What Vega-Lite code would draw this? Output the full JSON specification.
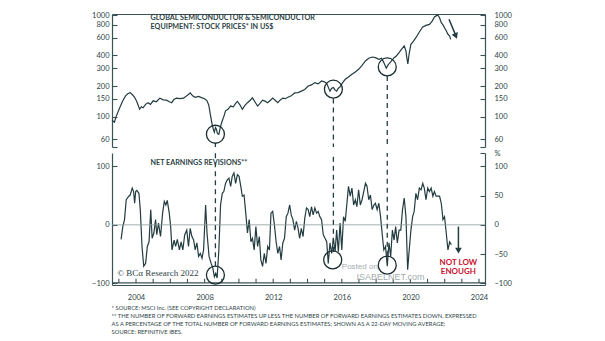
{
  "$schema": "https://vega.github.io/schema/vega-lite/v6.json",
  "background": "white",
  "padding": {"left": 91, "top": 11, "right": 5, "bottom": 2},
  "config": {
    "view": {"stroke": null},
    "font": "Lato",
    "axis": {"domainColor": "#3a5256", "tickColor": "#3a5256", "labelColor": "#2d4346", "labelFont": "Lato", "labelFontSize": 7.5, "domainWidth": 1.2, "tickWidth": 1.1, "grid": false}
  },
  "resolve": {"scale": {"x": "independent"}, "axis": {"x": "independent"}},
  "title": {
    "text": [
      "*   SOURCE: MSCI Inc. (SEE COPYRIGHT DECLARATION)",
      "**  THE NUMBER OF FORWARD EARNINGS ESTIMATES UP LESS THE NUMBER OF FORWARD EARNINGS ESTIMATES DOWN, EXPRESSED",
      "     AS A PERCENTAGE OF THE TOTAL NUMBER OF FORWARD EARNINGS ESTIMATES; SHOWN AS A 22-DAY MOVING AVERAGE;",
      "     SOURCE: REFINITIVE IBES."
    ],
    "orient": "bottom",
    "anchor": "start",
    "fontSize": 5.8,
    "fontWeight": "normal",
    "lineHeight": 8.1,
    "color": "#2d4346",
    "offset": 4,
    "dx": 20
  },
  "datasets": {
    "price": [
      {"year": 2002.60, "value": 92}, {"year": 2002.74, "value": 88}, {"year": 2002.84, "value": 100}, {"year": 2003.03, "value": 120},
      {"year": 2003.23, "value": 143}, {"year": 2003.39, "value": 160}, {"year": 2003.52, "value": 168}, {"year": 2003.66, "value": 172},
      {"year": 2003.78, "value": 165}, {"year": 2003.92, "value": 155}, {"year": 2004.05, "value": 140}, {"year": 2004.21, "value": 118},
      {"year": 2004.31, "value": 125}, {"year": 2004.41, "value": 122}, {"year": 2004.56, "value": 132}, {"year": 2004.70, "value": 137},
      {"year": 2004.84, "value": 132}, {"year": 2005.00, "value": 143}, {"year": 2005.19, "value": 140}, {"year": 2005.39, "value": 152},
      {"year": 2005.59, "value": 146}, {"year": 2005.78, "value": 145}, {"year": 2005.94, "value": 140}, {"year": 2006.08, "value": 137},
      {"year": 2006.22, "value": 148}, {"year": 2006.37, "value": 152}, {"year": 2006.57, "value": 150}, {"year": 2006.77, "value": 152},
      {"year": 2006.96, "value": 160}, {"year": 2007.16, "value": 171}, {"year": 2007.30, "value": 160}, {"year": 2007.45, "value": 155},
      {"year": 2007.65, "value": 158}, {"year": 2007.85, "value": 153}, {"year": 2008.00, "value": 150}, {"year": 2008.14, "value": 143},
      {"year": 2008.24, "value": 130}, {"year": 2008.30, "value": 114}, {"year": 2008.38, "value": 95}, {"year": 2008.44, "value": 84},
      {"year": 2008.51, "value": 75}, {"year": 2008.57, "value": 70}, {"year": 2008.63, "value": 78}, {"year": 2008.69, "value": 75},
      {"year": 2008.75, "value": 68}, {"year": 2008.83, "value": 67}, {"year": 2008.93, "value": 80}, {"year": 2009.03, "value": 91},
      {"year": 2009.12, "value": 100}, {"year": 2009.22, "value": 114}, {"year": 2009.36, "value": 118}, {"year": 2009.52, "value": 127},
      {"year": 2009.67, "value": 125}, {"year": 2009.81, "value": 135}, {"year": 2009.91, "value": 141}, {"year": 2010.07, "value": 130},
      {"year": 2010.20, "value": 118}, {"year": 2010.34, "value": 128}, {"year": 2010.50, "value": 137}, {"year": 2010.66, "value": 145},
      {"year": 2010.79, "value": 153}, {"year": 2010.93, "value": 140}, {"year": 2011.09, "value": 127}, {"year": 2011.23, "value": 135},
      {"year": 2011.38, "value": 145}, {"year": 2011.52, "value": 142}, {"year": 2011.68, "value": 137}, {"year": 2011.84, "value": 145},
      {"year": 2011.97, "value": 152}, {"year": 2012.11, "value": 145}, {"year": 2012.27, "value": 137}, {"year": 2012.40, "value": 145},
      {"year": 2012.56, "value": 152}, {"year": 2012.70, "value": 150}, {"year": 2012.86, "value": 155}, {"year": 2013.05, "value": 160},
      {"year": 2013.25, "value": 171}, {"year": 2013.45, "value": 172}, {"year": 2013.64, "value": 178}, {"year": 2013.84, "value": 185},
      {"year": 2014.04, "value": 200}, {"year": 2014.23, "value": 205}, {"year": 2014.43, "value": 216}, {"year": 2014.62, "value": 210},
      {"year": 2014.82, "value": 224}, {"year": 2014.98, "value": 220}, {"year": 2015.12, "value": 212}, {"year": 2015.21, "value": 195},
      {"year": 2015.31, "value": 178}, {"year": 2015.41, "value": 190}, {"year": 2015.51, "value": 193}, {"year": 2015.61, "value": 182},
      {"year": 2015.70, "value": 178}, {"year": 2015.80, "value": 190}, {"year": 2015.90, "value": 196}, {"year": 2016.04, "value": 215},
      {"year": 2016.20, "value": 233}, {"year": 2016.39, "value": 245}, {"year": 2016.59, "value": 261}, {"year": 2016.79, "value": 275},
      {"year": 2016.98, "value": 292}, {"year": 2017.18, "value": 320}, {"year": 2017.38, "value": 353}, {"year": 2017.57, "value": 375},
      {"year": 2017.77, "value": 386}, {"year": 2017.96, "value": 380}, {"year": 2018.16, "value": 366}, {"year": 2018.32, "value": 375},
      {"year": 2018.45, "value": 340}, {"year": 2018.59, "value": 300}, {"year": 2018.71, "value": 325}, {"year": 2018.85, "value": 345},
      {"year": 2019.05, "value": 380}, {"year": 2019.18, "value": 395}, {"year": 2019.34, "value": 427}, {"year": 2019.50, "value": 465},
      {"year": 2019.64, "value": 495}, {"year": 2019.74, "value": 443}, {"year": 2019.79, "value": 380}, {"year": 2019.85, "value": 330},
      {"year": 2019.93, "value": 420}, {"year": 2020.03, "value": 514}, {"year": 2020.17, "value": 550}, {"year": 2020.32, "value": 598},
      {"year": 2020.52, "value": 680}, {"year": 2020.72, "value": 762}, {"year": 2020.91, "value": 790}, {"year": 2021.11, "value": 809},
      {"year": 2021.27, "value": 870}, {"year": 2021.40, "value": 956}, {"year": 2021.50, "value": 980}, {"year": 2021.60, "value": 1000},
      {"year": 2021.70, "value": 940}, {"year": 2021.80, "value": 841}, {"year": 2021.90, "value": 800}, {"year": 2021.99, "value": 750},
      {"year": 2022.09, "value": 700}, {"year": 2022.19, "value": 646}, {"year": 2022.29, "value": 620}, {"year": 2022.35, "value": 576}
    ],
    "rev": [
      {"year": 2003.13, "value": -25}, {"year": 2003.23, "value": -3}, {"year": 2003.33, "value": 9}, {"year": 2003.43, "value": 43},
      {"year": 2003.58, "value": 49}, {"year": 2003.66, "value": 51}, {"year": 2003.78, "value": 63}, {"year": 2003.86, "value": 57},
      {"year": 2003.92, "value": 37}, {"year": 2003.98, "value": 57}, {"year": 2004.05, "value": 59}, {"year": 2004.17, "value": 54},
      {"year": 2004.25, "value": 26}, {"year": 2004.35, "value": -37}, {"year": 2004.45, "value": -71}, {"year": 2004.56, "value": -66},
      {"year": 2004.66, "value": -37}, {"year": 2004.76, "value": -29}, {"year": 2004.86, "value": 26}, {"year": 2004.94, "value": -23},
      {"year": 2005.04, "value": -14}, {"year": 2005.14, "value": 9}, {"year": 2005.21, "value": -17}, {"year": 2005.31, "value": 3},
      {"year": 2005.43, "value": -20}, {"year": 2005.55, "value": 20}, {"year": 2005.65, "value": 40}, {"year": 2005.74, "value": 34},
      {"year": 2005.82, "value": 42}, {"year": 2005.94, "value": 20}, {"year": 2006.02, "value": -3}, {"year": 2006.10, "value": -43},
      {"year": 2006.22, "value": -26}, {"year": 2006.31, "value": -37}, {"year": 2006.41, "value": -25}, {"year": 2006.53, "value": -43},
      {"year": 2006.63, "value": -29}, {"year": 2006.73, "value": -43}, {"year": 2006.84, "value": -17}, {"year": 2006.96, "value": -9},
      {"year": 2007.06, "value": -37}, {"year": 2007.16, "value": -6}, {"year": 2007.26, "value": -20}, {"year": 2007.36, "value": -26},
      {"year": 2007.45, "value": -43}, {"year": 2007.55, "value": -31}, {"year": 2007.65, "value": -54}, {"year": 2007.75, "value": -49},
      {"year": 2007.85, "value": -57}, {"year": 2007.94, "value": -43}, {"year": 2008.06, "value": 34}, {"year": 2008.14, "value": -14},
      {"year": 2008.26, "value": -54}, {"year": 2008.38, "value": -66}, {"year": 2008.48, "value": -74}, {"year": 2008.57, "value": -89},
      {"year": 2008.65, "value": -83}, {"year": 2008.73, "value": -91}, {"year": 2008.83, "value": -43}, {"year": 2008.93, "value": 34},
      {"year": 2009.03, "value": 54}, {"year": 2009.12, "value": 57}, {"year": 2009.22, "value": 71}, {"year": 2009.32, "value": 77},
      {"year": 2009.42, "value": 80}, {"year": 2009.52, "value": 66}, {"year": 2009.61, "value": 83}, {"year": 2009.71, "value": 89},
      {"year": 2009.81, "value": 71}, {"year": 2009.91, "value": 86}, {"year": 2010.01, "value": 83}, {"year": 2010.11, "value": 66},
      {"year": 2010.20, "value": 49}, {"year": 2010.30, "value": 51}, {"year": 2010.40, "value": 20}, {"year": 2010.50, "value": -14},
      {"year": 2010.60, "value": 9}, {"year": 2010.70, "value": -29}, {"year": 2010.79, "value": -23}, {"year": 2010.89, "value": -43},
      {"year": 2010.99, "value": -3}, {"year": 2011.09, "value": -37}, {"year": 2011.19, "value": -20}, {"year": 2011.28, "value": -60},
      {"year": 2011.38, "value": -71}, {"year": 2011.48, "value": -49}, {"year": 2011.58, "value": -66}, {"year": 2011.68, "value": -37},
      {"year": 2011.78, "value": -43}, {"year": 2011.87, "value": 20}, {"year": 2011.97, "value": 23}, {"year": 2012.07, "value": 0},
      {"year": 2012.17, "value": -29}, {"year": 2012.27, "value": -49}, {"year": 2012.37, "value": -37}, {"year": 2012.46, "value": -60},
      {"year": 2012.56, "value": -31}, {"year": 2012.66, "value": -23}, {"year": 2012.76, "value": 14}, {"year": 2012.86, "value": 20},
      {"year": 2012.96, "value": 34}, {"year": 2013.05, "value": 17}, {"year": 2013.15, "value": 9}, {"year": 2013.25, "value": -9},
      {"year": 2013.35, "value": 6}, {"year": 2013.45, "value": -6}, {"year": 2013.54, "value": -23}, {"year": 2013.64, "value": -6},
      {"year": 2013.74, "value": -20}, {"year": 2013.84, "value": 11}, {"year": 2013.94, "value": 29}, {"year": 2014.04, "value": 26},
      {"year": 2014.13, "value": 14}, {"year": 2014.23, "value": 31}, {"year": 2014.33, "value": 17}, {"year": 2014.43, "value": 29},
      {"year": 2014.53, "value": 20}, {"year": 2014.62, "value": 23}, {"year": 2014.72, "value": 14}, {"year": 2014.82, "value": 9},
      {"year": 2014.92, "value": -17}, {"year": 2015.02, "value": -23}, {"year": 2015.12, "value": -29}, {"year": 2015.21, "value": -66},
      {"year": 2015.31, "value": -31}, {"year": 2015.41, "value": -49}, {"year": 2015.51, "value": -23}, {"year": 2015.61, "value": -46},
      {"year": 2015.70, "value": -9}, {"year": 2015.80, "value": -46}, {"year": 2015.90, "value": 3}, {"year": 2016.00, "value": -43},
      {"year": 2016.10, "value": 14}, {"year": 2016.20, "value": 6}, {"year": 2016.29, "value": 34}, {"year": 2016.39, "value": 66},
      {"year": 2016.49, "value": 49}, {"year": 2016.59, "value": 63}, {"year": 2016.69, "value": 34}, {"year": 2016.79, "value": 43},
      {"year": 2016.88, "value": 31}, {"year": 2016.98, "value": 60}, {"year": 2017.08, "value": 34}, {"year": 2017.18, "value": 43},
      {"year": 2017.28, "value": 57}, {"year": 2017.38, "value": 71}, {"year": 2017.47, "value": 66}, {"year": 2017.57, "value": 43},
      {"year": 2017.67, "value": 51}, {"year": 2017.77, "value": 26}, {"year": 2017.87, "value": 34}, {"year": 2017.96, "value": 37},
      {"year": 2018.06, "value": 26}, {"year": 2018.16, "value": 37}, {"year": 2018.26, "value": 14}, {"year": 2018.36, "value": -17},
      {"year": 2018.45, "value": -43}, {"year": 2018.55, "value": -37}, {"year": 2018.65, "value": -71}, {"year": 2018.75, "value": -31},
      {"year": 2018.85, "value": -54}, {"year": 2018.95, "value": -9}, {"year": 2019.05, "value": -26}, {"year": 2019.14, "value": -3},
      {"year": 2019.24, "value": -31}, {"year": 2019.34, "value": -9}, {"year": 2019.44, "value": -9}, {"year": 2019.54, "value": 26},
      {"year": 2019.64, "value": 46}, {"year": 2019.74, "value": 14}, {"year": 2019.84, "value": -77}, {"year": 2019.93, "value": -43},
      {"year": 2020.03, "value": -9}, {"year": 2020.13, "value": 14}, {"year": 2020.22, "value": 23}, {"year": 2020.32, "value": 54},
      {"year": 2020.42, "value": 43}, {"year": 2020.52, "value": 63}, {"year": 2020.62, "value": 60}, {"year": 2020.72, "value": 71},
      {"year": 2020.81, "value": 63}, {"year": 2020.91, "value": 43}, {"year": 2021.01, "value": 63}, {"year": 2021.11, "value": 57},
      {"year": 2021.21, "value": 63}, {"year": 2021.31, "value": 49}, {"year": 2021.40, "value": 57}, {"year": 2021.50, "value": 49},
      {"year": 2021.60, "value": 49}, {"year": 2021.70, "value": 49}, {"year": 2021.80, "value": 37}, {"year": 2021.90, "value": 9},
      {"year": 2021.99, "value": 14}, {"year": 2022.09, "value": -14}, {"year": 2022.19, "value": -43}, {"year": 2022.29, "value": -29},
      {"year": 2022.39, "value": -34}
    ],
    "topCircles": [{"year": 2008.63, "value": 67}, {"year": 2015.51, "value": 186}, {"year": 2018.65, "value": 308}],
    "topDash": [{"year": 2008.63, "value": 54.7}, {"year": 2015.51, "value": 151}, {"year": 2018.65, "value": 251}],
    "botCircles": [{"year": 2008.63, "value": -86}, {"year": 2015.47, "value": -60}, {"year": 2018.65, "value": -69}],
    "botDash": [{"year": 2008.63, "value": -71}, {"year": 2015.51, "value": -46}, {"year": 2018.65, "value": -53}],
    "yearTicks": [
      {"year": 2003}, {"year": 2004}, {"year": 2005}, {"year": 2006}, {"year": 2007}, {"year": 2008}, {"year": 2009}, {"year": 2010},
      {"year": 2011}, {"year": 2012}, {"year": 2013}, {"year": 2014}, {"year": 2015}, {"year": 2016}, {"year": 2017}, {"year": 2018},
      {"year": 2019}, {"year": 2020}, {"year": 2021}, {"year": 2022}, {"year": 2023}, {"year": 2024}
    ],
    "one": [{"k": 1}]
  },
  "vconcat": [
    {
      "width": 373,
      "height": 133,
      "resolve": {"scale": {"y": "independent"}, "axis": {"y": "independent"}},
      "layer": [
        {
          "layer": [
            {
              "data": {"name": "price"},
              "mark": {"type": "line", "color": "#233c40", "strokeWidth": 1.2},
              "encoding": {
                "x": {"field": "year", "type": "quantitative", "scale": {"domain": [2002.6, 2024.35], "nice": false, "zero": false},
                      "axis": {"orient": "top", "labels": false, "ticks": false, "domain": true, "title": null}},
                "y": {"field": "value", "type": "quantitative", "scale": {"type": "log", "domain": [50.2, 1023], "nice": false},
                      "axis": {"orient": "left", "values": [50.2, 60, 100, 150, 200, 300, 400, 600, 800, 1000], "format": "d",
                               "labelExpr": "datum.value < 55 ? '' : datum.label", "tickSize": -5, "labelPadding": 8, "title": null}}
              }
            },
            {
              "data": {"name": "topDash"},
              "mark": {"type": "rule", "color": "#233c40", "strokeWidth": 1.3, "strokeDash": [5, 4]},
              "encoding": {
                "x": {"field": "year", "type": "quantitative"},
                "y": {"field": "value", "type": "quantitative"},
                "y2": {"datum": 50.2}
              }
            },
            {
              "data": {"name": "topCircles"},
              "mark": {"type": "point", "shape": "circle", "filled": false, "size": 324, "stroke": "#1a2d30", "strokeWidth": 1.3, "opacity": 1},
              "encoding": {
                "x": {"field": "year", "type": "quantitative"},
                "y": {"field": "value", "type": "quantitative"}
              }
            },
            {
              "data": {"name": "one"},
              "mark": {"type": "text", "text": ["GLOBAL SEMICONDUCTOR & SEMICONDUCTOR", "EQUIPMENT: STOCK PRICES* IN US$"], "align": "left", "baseline": "middle", "fontSize": 7.2, "fontWeight": "bold", "color": "#2d4346", "lineHeight": 9},
              "encoding": {"x": {"datum": 2004.85}, "y": {"datum": 941}}
            },
            {
              "data": {"name": "one"},
              "mark": {"type": "rule", "color": "#233c40", "strokeWidth": 1.5},
              "encoding": {"x": {"datum": 2022.25}, "y": {"datum": 907}, "x2": {"datum": 2022.65}, "y2": {"datum": 627}}
            },
            {
              "data": {"name": "one"},
              "mark": {"type": "point", "shape": "triangle-down", "filled": true, "size": 45, "color": "#233c40", "angle": 337, "opacity": 1},
              "encoding": {"x": {"datum": 2022.65}, "y": {"datum": 620}}
            }
          ]
        },
        {
          "data": {"name": "price"},
          "mark": {"type": "line", "opacity": 0},
          "encoding": {
            "x": {"field": "year", "type": "quantitative", "scale": {"domain": [2002.6, 2024.35], "nice": false, "zero": false},
                  "axis": {"orient": "top", "labels": false, "ticks": false, "domain": true, "title": null}},
            "y": {"field": "value", "type": "quantitative", "scale": {"type": "log", "domain": [50.2, 1023], "nice": false},
                  "axis": {"orient": "right", "values": [50.2, 60, 100, 150, 200, 300, 400, 600, 800, 1000], "format": "d",
                           "labelExpr": "datum.value < 55 ? '' : datum.label", "tickSize": -5, "labelPadding": 14, "title": null}}
          }
        }
      ]
    },
    {
      "width": 373,
      "height": 132,
      "resolve": {"scale": {"y": "independent"}, "axis": {"y": "independent"}},
      "layer": [
        {
          "layer": [
            {
              "data": {"name": "rev"},
              "mark": {"type": "line", "color": "#233c40", "strokeWidth": 1.2},
              "encoding": {
                "x": {"field": "year", "type": "quantitative", "scale": {"domain": [2002.6, 2024.35], "nice": false, "zero": false},
                      "axis": {"orient": "bottom", "values": [2004, 2008, 2012, 2016, 2020, 2024], "format": "d", "ticks": false, "domain": true, "zindex": 2, "labelPadding": 8, "title": null}},
                "y": {"field": "value", "type": "quantitative", "scale": {"domain": [-103, 123], "nice": false, "zero": false},
                      "axis": {"orient": "left", "values": [-100, -50, 0, 50, 100, 123], "labelExpr": "datum.value > 110 ? '%' : datum.label",
                               "tickSize": -5, "labelPadding": 8, "title": null}}
              }
            },
            {
              "data": {"name": "one"},
              "mark": {"type": "rule", "color": "#8c9a9c", "strokeWidth": 0.8},
              "encoding": {"x": {"datum": 2002.6}, "x2": {"datum": 2024.35}, "y": {"datum": 0}}
            },
            {
              "data": {"name": "one"},
              "mark": {"type": "rule", "color": "#3a5256", "strokeWidth": 1.3},
              "encoding": {"x": {"datum": 2002.6}, "x2": {"datum": 2024.35}, "y": {"datum": -99.5}}
            },
            {
              "data": {"name": "yearTicks"},
              "mark": {"type": "rule", "color": "#3a5256", "strokeWidth": 1.1},
              "encoding": {
                "x": {"field": "year", "type": "quantitative"},
                "y": {"datum": -99.5},
                "y2": {"datum": -92.5}
              }
            },
            {
              "data": {"name": "botDash"},
              "mark": {"type": "rule", "color": "#233c40", "strokeWidth": 1.3, "strokeDash": [5, 4]},
              "encoding": {
                "x": {"field": "year", "type": "quantitative"},
                "y": {"field": "value", "type": "quantitative"},
                "y2": {"datum": 123}
              }
            },
            {
              "data": {"name": "botCircles"},
              "mark": {"type": "point", "shape": "circle", "filled": false, "size": 324, "stroke": "#1a2d30", "strokeWidth": 1.3, "opacity": 1},
              "encoding": {
                "x": {"field": "year", "type": "quantitative"},
                "y": {"field": "value", "type": "quantitative"}
              }
            },
            {
              "data": {"name": "one"},
              "mark": {"type": "text", "text": "NET EARNINGS REVISIONS**", "align": "left", "baseline": "middle", "fontSize": 7.2, "fontWeight": "bold", "color": "#2d4346"},
              "encoding": {"x": {"datum": 2004.85}, "y": {"datum": 106}}
            },
            {
              "data": {"name": "one"},
              "mark": {"type": "text", "text": "© BCα Research 2022", "align": "left", "baseline": "middle", "font": "Liberation Serif", "fontSize": 9, "color": "#2d4346"},
              "encoding": {"x": {"datum": 2002.9}, "y": {"datum": -82}}
            },
            {
              "data": {"name": "one"},
              "mark": {"type": "text", "text": "Posted on", "align": "left", "baseline": "middle", "font": "Liberation Sans", "fontSize": 8, "color": "#a3adb0"},
              "encoding": {"x": {"datum": 2016.0}, "y": {"datum": -73}}
            },
            {
              "data": {"name": "one"},
              "mark": {"type": "text", "text": "ISABELNET.com", "align": "left", "baseline": "middle", "font": "Liberation Sans", "fontSize": 9, "color": "#a3adb0"},
              "encoding": {"x": {"datum": 2016.85}, "y": {"datum": -90}}
            },
            {
              "data": {"name": "one"},
              "mark": {"type": "text", "text": ["NOT LOW", "ENOUGH"], "align": "center", "baseline": "middle", "fontSize": 8, "fontWeight": "bold", "color": "#c8102e", "lineHeight": 9},
              "encoding": {"x": {"datum": 2022.8}, "y": {"datum": -65}}
            },
            {
              "data": {"name": "one"},
              "mark": {"type": "rule", "color": "#233c40", "strokeWidth": 1.5},
              "encoding": {"x": {"datum": 2022.8}, "y": {"datum": -3}, "y2": {"datum": -40}}
            },
            {
              "data": {"name": "one"},
              "mark": {"type": "point", "shape": "triangle-down", "filled": true, "size": 45, "color": "#233c40", "opacity": 1},
              "encoding": {"x": {"datum": 2022.8}, "y": {"datum": -44}}
            }
          ]
        },
        {
          "data": {"name": "rev"},
          "mark": {"type": "line", "opacity": 0},
          "encoding": {
            "x": {"field": "year", "type": "quantitative", "scale": {"domain": [2002.6, 2024.35], "nice": false, "zero": false},
                  "axis": {"orient": "bottom", "values": [2004, 2008, 2012, 2016, 2020, 2024], "format": "d", "ticks": false, "domain": true, "zindex": 2, "labelPadding": 8, "title": null}},
            "y": {"field": "value", "type": "quantitative", "scale": {"domain": [-103, 123], "nice": false, "zero": false},
                  "axis": {"orient": "right", "values": [-100, -50, 0, 50, 100, 123], "labelExpr": "datum.value > 110 ? '%' : datum.label",
                           "tickSize": -5, "labelPadding": 14, "title": null}}
          }
        }
      ]
    }
  ],
  "spacing": 1
}
